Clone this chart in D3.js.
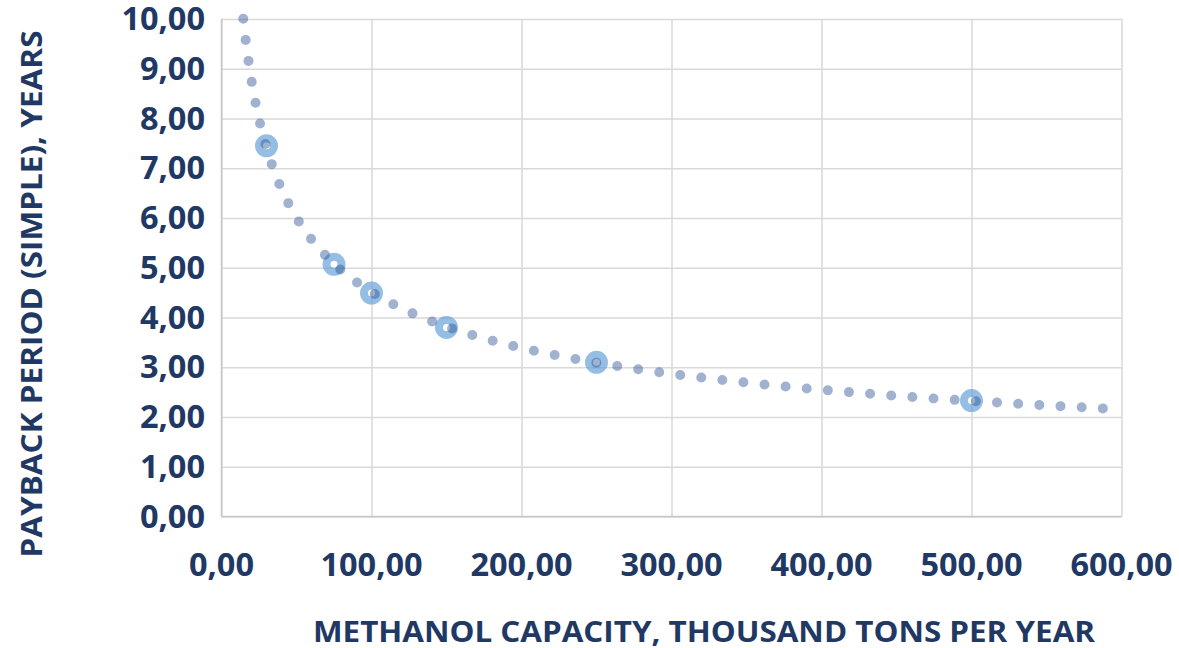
<!DOCTYPE html>
<html>
<head>
<meta charset="utf-8">
<script src="https://cdn.jsdelivr.net/npm/d3@7"></script>
<style>
  html, body { margin: 0; padding: 0; background: #fff; }
  svg { display: block; }
</style>
</head>
<body>
<div id="chart"></div>
<script>
// Observed points: capacity (thousand t/yr) vs simple payback (years)
const capacity = [30, 75, 100, 150, 250, 500];
const payback = [7.45, 5.07, 4.49, 3.80, 3.10, 2.33];

const xTicks = [0, 100, 200, 300, 400, 500, 600];
const yTicks = [0, 1, 2, 3, 4, 5, 6, 7, 8, 9, 10];

// Power trendline range (backward / forward forecast as in the source)
const trendFrom = 14.5;
const trendTo = 590;

const xTitle = "METHANOL CAPACITY, THOUSAND TONS PER YEAR";
const yTitle = "PAYBACK PERIOD (SIMPLE), YEARS";

const W = 1179, H = 648;
const textColor = "#1f3864";
const font = "'Open Sans', sans-serif";

const locale = d3.formatLocale({ decimal: ",", thousands: " ", grouping: [3], currency: ["", ""] });
const fmt = locale.format(".2f");

const x = d3.scaleLinear().domain([0, 600]).range([221.5, 1121.5]);
const y = d3.scaleLinear().domain([0, 10]).range([516.5, 19]);

const svg = d3.select("#chart").append("svg")
    .attr("width", W)
    .attr("height", H)
    .attr("viewBox", `0 0 ${W} ${H}`);

// Gridlines
const gx = svg.append("g")
    .attr("transform", `translate(0,${y(0)})`)
    .call(d3.axisBottom(x).tickValues(xTicks).tickSize(-(y(0) - y(10))).tickFormat(""));
const gy = svg.append("g")
    .attr("transform", `translate(${x(0)},0)`)
    .call(d3.axisLeft(y).tickValues(yTicks).tickSize(-(x(600) - x(0))).tickFormat(""));
[gx, gy].forEach(g => {
  g.select(".domain").remove();
  g.selectAll(".tick line").attr("stroke", "#d9d9d9").attr("stroke-width", 1.5);
});

// Axis lines
svg.append("line")
    .attr("x1", x(0)).attr("x2", x(600))
    .attr("y1", y(0)).attr("y2", y(0))
    .attr("stroke", "#c8c8c8").attr("stroke-width", 1.5);
svg.append("line")
    .attr("x1", x(0)).attr("x2", x(0))
    .attr("y1", y(0)).attr("y2", y(10))
    .attr("stroke", "#c8c8c8").attr("stroke-width", 1.5);

// Tick labels
svg.append("g").selectAll("text")
  .data(xTicks)
  .join("text")
    .attr("x", d => x(d))
    .attr("y", 576)
    .attr("text-anchor", "middle")
    .attr("font-family", font)
    .attr("font-weight", 700)
    .attr("font-size", 32.5)
    .attr("fill", textColor)
    .text(d => fmt(d));

svg.append("g").selectAll("text")
  .data(yTicks)
  .join("text")
    .attr("x", 205)
    .attr("y", d => y(d) + 11)
    .attr("text-anchor", "end")
    .attr("font-family", font)
    .attr("font-weight", 700)
    .attr("font-size", 32.5)
    .attr("fill", textColor)
    .text(d => fmt(d));

// Axis titles
svg.append("text")
    .attr("x", 704)
    .attr("y", 642)
    .attr("text-anchor", "middle")
    .attr("font-family", font)
    .attr("font-weight", 700)
    .attr("font-size", 28)
    .attr("fill", textColor)
    .attr("textLength", 782)
    .attr("lengthAdjust", "spacingAndGlyphs")
    .text(xTitle);

svg.append("text")
    .attr("transform", `translate(42,294) rotate(-90)`)
    .attr("text-anchor", "middle")
    .attr("font-family", font)
    .attr("font-weight", 700)
    .attr("font-size", 28)
    .attr("fill", textColor)
    .attr("textLength", 527)
    .attr("lengthAdjust", "spacingAndGlyphs")
    .text(yTitle);

// Markers (rings)
svg.append("g").selectAll("circle")
  .data(capacity.map((c, i) => [c, payback[i]]))
  .join("circle")
    .attr("cx", d => x(d[0]))
    .attr("cy", d => y(d[1]))
    .attr("r", 7.5)
    .attr("fill", "none")
    .attr("stroke", "#5b9bd5")
    .attr("stroke-opacity", 0.65)
    .attr("stroke-width", 8);

// Power trendline fitted on the data (least squares in log-log space)
const lx = capacity.map(Math.log), ly = payback.map(Math.log);
const mx = d3.mean(lx), my = d3.mean(ly);
const b = d3.sum(lx, (v, i) => (v - mx) * (ly[i] - my)) / d3.sum(lx, v => (v - mx) ** 2);
const a = Math.exp(my - b * mx);
const trend = d3.range(0, 401).map(i => {
  const c = trendFrom + (trendTo - trendFrom) * i / 400;
  return [c, a * Math.pow(c, b)];
});

svg.append("path")
    .datum(trend)
    .attr("d", d3.line().x(d => x(d[0])).y(d => y(d[1])))
    .attr("fill", "none")
    .attr("stroke", "#2f5597")
    .attr("stroke-opacity", 0.45)
    .attr("stroke-width", 10)
    .attr("stroke-linecap", "round")
    .attr("stroke-dasharray", "0 21.2");
</script>
</body>
</html>
